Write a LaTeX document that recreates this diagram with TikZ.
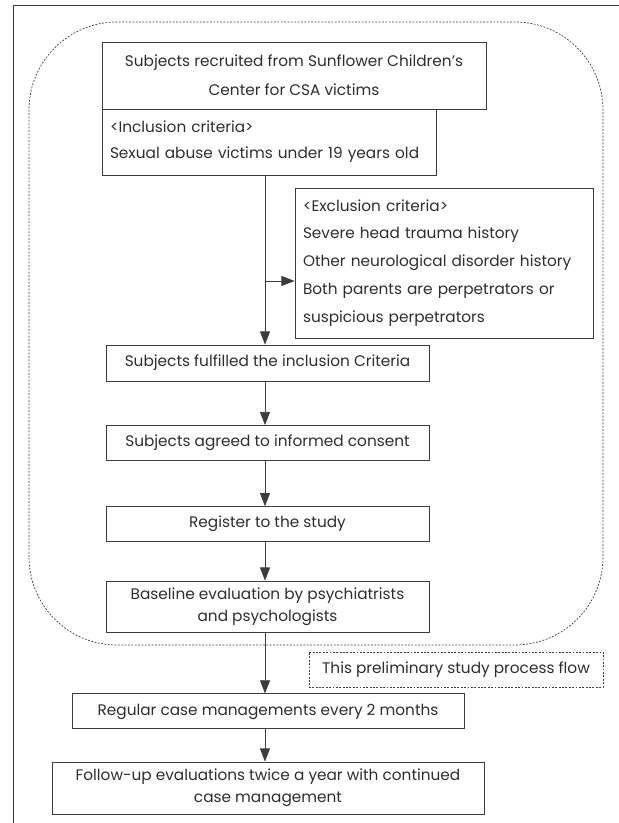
\documentclass[tikz,border=0pt]{standalone}
\usepackage{fontspec}
\setmainfont{Poppins}
\usetikzlibrary{arrows.meta}
\definecolor{linegray}{RGB}{60,60,60}
\definecolor{textgray}{RGB}{45,45,45}
\newcommand{\flowfont}{\fontsize{10.9}{15.6}\selectfont}
\tikzset{
    stepbox/.style={draw=linegray, line width=0.6pt, text=textgray, font=\flowfont,
        inner sep=0pt, align=center},
    flow/.style={draw=linegray, line width=0.6pt, -{Triangle[length=0.33cm,width=0.25cm]}},
    dashpat/.style={dash pattern=on 1.3pt off 1.1pt, line width=0.5pt}
}

\begin{document}
\begin{tikzpicture}
        \useasboundingbox (0,0) rectangle (15.475,20.575);
        \draw[linegray, line width=0.7pt] (0.325,0) -- (0.325,20.425) -- (15.475,20.425);
        \draw[linegray, dashpat, rounded corners=2.2cm] (0.725,4.45) rectangle (15.075,20.025);

        \node[stepbox, minimum width=9.6cm, minimum height=1.675cm,
            font=\fontsize{10.9}{20.5}\selectfont] (recruit) at (7.35,18.6875)
            {Subjects recruited from Sunflower Children’s\\Center for CSA victims};
        \node[stepbox, align=left, text width=7.95cm, inner xsep=0.2cm, minimum height=1.65cm,
            font=\fontsize{10.9}{18.5}\selectfont] (incl) at (6.725,17.025)
            {<Inclusion criteria>\\Sexual abuse victims under 19 years old};
        \node[stepbox, align=left, text width=7.05cm, inner xsep=0.2cm, minimum height=3.75cm,
            font=\fontsize{10.9}{19.8}\selectfont] (excl) at (11.1,14.0)
            {<Exclusion criteria>\\Severe head trauma history\\Other neurological disorder history\\
             Both parents are perpetrators or\\suspicious perpetrators};

        \node[stepbox, minimum width=8.075cm, minimum height=0.9cm] (fulfil) at (6.6875,11.5)
            {Subjects fulfilled the inclusion Criteria};
        \node[stepbox, minimum width=8.075cm, minimum height=0.875cm] (consent) at (6.6875,9.5)
            {Subjects agreed to informed consent};
        \node[stepbox, minimum width=8.075cm, minimum height=0.875cm] (register) at (6.6875,7.47)
            {Register to the study};
        \node[stepbox, minimum width=8.075cm, minimum height=1.275cm] (baseline) at (6.6875,5.41)
            {Baseline evaluation by psychiatrists\\and psychologists};

        \node[stepbox, dashpat, minimum width=7.35cm, minimum height=0.875cm] (prelim) at (11.4,3.84)
            {This preliminary study process flow};
        \node[stepbox, minimum width=9.8cm, minimum height=0.875cm] (regular) at (6.7,2.79)
            {Regular case managements every 2 months};
        \node[stepbox, minimum width=10.8cm, minimum height=1.3cm] (followup) at (6.7,0.875)
            {Follow-up evaluations twice a year with continued\\case management};

        \coordinate (spine) at (6.625,0);
        \coordinate (branch) at (6.625,13.55);
        \draw[flow] (incl.south -| spine) -- (fulfil.north -| spine);
        \draw[flow] (branch) -- (excl.west |- branch);
        \draw[flow] (fulfil.south -| spine) -- (consent.north -| spine);
        \draw[flow] (consent.south -| spine) -- (register.north -| spine);
        \draw[flow] (register.south -| spine) -- (baseline.north -| spine);
        \draw[flow] (baseline.south -| spine) -- (regular.north -| spine);
        \draw[flow] (regular.south -| spine) -- (followup.north -| spine);

    \end{tikzpicture}
\end{document}
